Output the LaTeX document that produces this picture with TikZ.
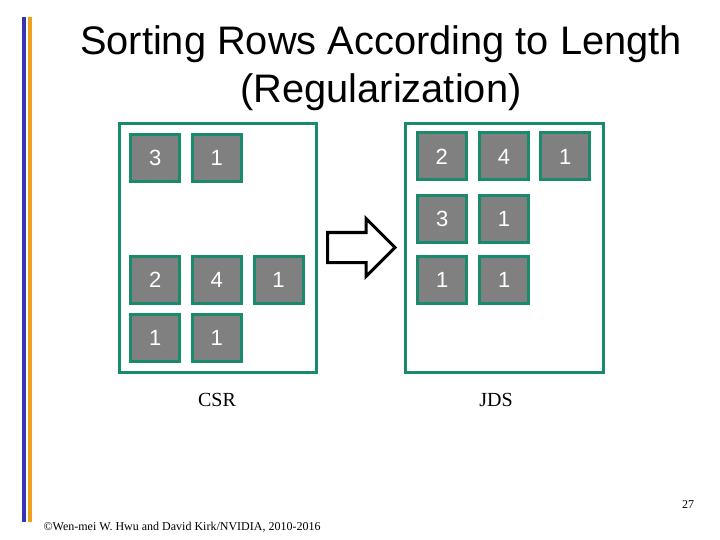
\documentclass[tikz,border=0pt]{standalone}
\usepackage{fontspec}
\setmainfont{Liberation Serif}
\newfontfamily\arialf{Liberation Sans}
\definecolor{teal1}{HTML}{1A8A6C}
\definecolor{cellgray}{HTML}{808080}
\definecolor{barblue}{HTML}{3535B5}
\definecolor{barorange}{HTML}{F0A020}
\begin{document}
\begin{tikzpicture}[x=1pt,y=-1pt,
  cell/.style={draw=teal1,line width=3pt,fill=cellgray,minimum width=49pt,minimum height=47pt,inner sep=0pt,text=white,font=\arialf\fontsize{22}{22}\selectfont},
  panel/.style={draw=teal1,line width=3pt},
  lbl/.style={font=\fontsize{20}{20}\selectfont}]
\useasboundingbox (0,0) rectangle (720,540);
% side bars
\fill[barblue] (22,17) rectangle (26,522);
\fill[barorange] (28,17) rectangle (32,522);
% title
\node[font=\arialf\fontsize{39.8}{48}\selectfont,align=center] (title) at (381,68) {Sorting Rows According to Length\\(Regularization)};
% panels
\draw[panel] (119,124) rectangle (316.5,372);
\draw[panel] (405,124) rectangle (603,372);
% CSR cells
\node[cell] (a1) at (155.3,158.3) {3};
\node[cell] (a2) at (216.8,158.3) {1};
\node[cell] (b1) at (155.3,280.3) {2};
\node[cell] (b2) at (216.8,280.3) {4};
\node[cell] (b3) at (278.5,280.3) {1};
\node[cell] (c1) at (155.3,337.5) {1};
\node[cell] (c2) at (216.8,337.5) {1};
% JDS cells
\node[cell] (d1) at (441.7,156.5) {2};
\node[cell] (d2) at (504,156.5) {4};
\node[cell] (d3) at (565.2,156.5) {1};
\node[cell] (e1) at (442.3,219.3) {3};
\node[cell] (e2) at (504,219.3) {1};
\node[cell] (f1) at (442.3,280.3) {1};
\node[cell] (f2) at (504.3,280.3) {1};
% arrow
\draw[line width=3pt,fill=white,line join=miter] (327.5,232.5) -- (366,232.5) -- (366,218.5) -- (395,247.5) -- (366,276.5) -- (366,262.5) -- (327.5,262.5) -- cycle;
% labels
\node[lbl] (csr) at (217,400) {CSR};
\node[lbl] (jds) at (496,400) {JDS};
\node[font=\fontsize{12}{12}\selectfont] (pg) at (688,505) {27};
\node[font=\fontsize{12}{12}\selectfont,anchor=west] (foot) at (40,527) {\textcopyright Wen-mei W. Hwu and David Kirk/NVIDIA, 2010-2016};
\end{tikzpicture}
\end{document}
